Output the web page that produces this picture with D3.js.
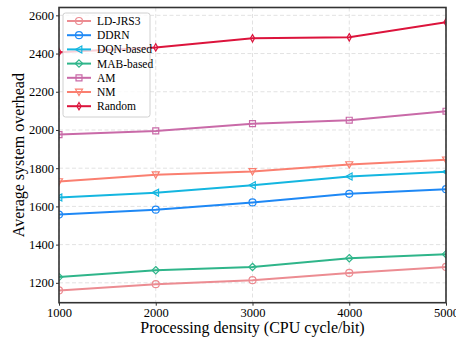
<!DOCTYPE html>
<html>
<head>
<meta charset="utf-8">
<script src="https://cdn.jsdelivr.net/npm/d3@7"></script>
<style>
  html, body { margin: 0; padding: 0; background: #fff; }
  svg { display: block; font-family: "Liberation Serif", "Times New Roman", serif; }
</style>
</head>
<body>
<svg id="chart" width="456" height="337"></svg>
<script>
// Processing density on the x axis
const densities = [1000, 2000, 3000, 4000, 5000];
const xTicks = [1000, 2000, 3000, 4000, 5000];
const yTicks = [1200, 1400, 1600, 1800, 2000, 2200, 2400, 2600];

// Average system overhead per scheme
const ldJrs3   = [1160, 1193, 1214, 1252, 1283];
const ddrn     = [1557, 1583, 1621, 1666, 1690];
const dqnBased = [1647, 1672, 1711, 1757, 1781];
const mabBased = [1230, 1266, 1283, 1329, 1350];
const am       = [1976, 1995, 2033, 2051, 2098];
const nm       = [1730, 1766, 1783, 1819, 1844];
const random   = [2407, 2432, 2480, 2485, 2564];

const seriesNames = ["LD-JRS3", "DDRN", "DQN-based", "MAB-based", "AM", "NM", "Random"];
const seriesValues = [ldJrs3, ddrn, dqnBased, mabBased, am, nm, random];
const seriesColors = ["#ec8c92", "#1e88f5", "#14b6e0", "#2fb58a", "#c96aa8", "#fa7f70", "#dc143c"];
const seriesMarkers = ["circle", "circle", "triLeft", "diamond", "square", "triDown", "thinDiamond"];

const svg = d3.select("#chart");
const W = 456, H = 337;
const m = { left: 59, right: 10, top: 7.5, bottom: 34.3 };
const pw = W - m.left - m.right, ph = H - m.top - m.bottom;

const x = d3.scaleLinear().domain([1000, 5000]).range([m.left, m.left + pw]);
const y = d3.scaleLinear().domain([1096, 2641]).range([m.top + ph, m.top]);

// grid
const grid = svg.append("g").attr("stroke", "#e2e2e2").attr("stroke-width", 1).attr("stroke-dasharray", "4,2.5");
grid.selectAll(".gy").data(yTicks).join("line")
  .attr("x1", m.left).attr("x2", m.left + pw)
  .attr("y1", d => y(d)).attr("y2", d => y(d));
grid.selectAll(".gx").data(xTicks).join("line")
  .attr("y1", m.top).attr("y2", m.top + ph)
  .attr("x1", d => x(d)).attr("x2", d => x(d));

svg.append("defs").append("clipPath").attr("id", "plotclip")
  .append("rect").attr("x", m.left).attr("y", m.top).attr("width", pw).attr("height", ph);

// marker path generator
function markerPath(type, s) {
  const r = s / 2;
  switch (type) {
    case "circle":
      return `M${r},0A${r},${r} 0 1,1 ${-r},0A${r},${r} 0 1,1 ${r},0Z`;
    case "square":
      return `M${-r*0.85},${-r*0.85}H${r*0.85}V${r*0.85}H${-r*0.85}Z`;
    case "diamond":
      return `M0,${-r*1.05}L${r*1.05},0L0,${r*1.05}L${-r*1.05},0Z`;
    case "thinDiamond":
      return `M0,${-r*1.05}L${r*0.6},0L0,${r*1.05}L${-r*0.6},0Z`;
    case "triLeft":
      return `M${-r},0L${r*0.8},${-r}L${r*0.8},${r}Z`;
    case "triDown":
      return `M${-r},${-r*0.8}L${r},${-r*0.8}L0,${r}Z`;
  }
}

const plot = svg.append("g").attr("clip-path", "url(#plotclip)");
const line = d3.line().x((d, i) => x(densities[i])).y(d => y(d));

seriesValues.forEach((vals, k) => {
  const g = plot.append("g");
  g.append("path").datum(vals).attr("d", line)
    .attr("fill", "none").attr("stroke", seriesColors[k]).attr("stroke-width", 2);
  g.selectAll("path.mk").data(vals).join("path").attr("class", "mk")
    .attr("transform", (d, i) => `translate(${x(densities[i])},${y(d)})`)
    .attr("d", markerPath(seriesMarkers[k], 7))
    .attr("fill", "none").attr("stroke", seriesColors[k]).attr("stroke-width", 1.2);
});

// frame
svg.append("rect").attr("x", m.left).attr("y", m.top).attr("width", pw).attr("height", ph)
  .attr("fill", "none").attr("stroke", "#333").attr("stroke-width", 1.6);

// axes
const xAxis = svg.append("g").attr("transform", `translate(0,${m.top + ph})`)
  .call(d3.axisBottom(x).tickValues(xTicks).tickSize(3).tickPadding(2).tickFormat(d3.format("d")));
const yAxis = svg.append("g").attr("transform", `translate(${m.left},0)`)
  .call(d3.axisLeft(y).tickValues(yTicks).tickSize(3).tickPadding(2).tickFormat(d3.format("d")));
[xAxis, yAxis].forEach(a => {
  a.select(".domain").remove();
  a.selectAll(".tick line").attr("stroke", "#333").attr("stroke-width", 1);
  a.selectAll(".tick text").attr("font-family", "Liberation Serif, Times New Roman, serif")
    .attr("font-size", 12.5).attr("fill", "#000");
});

// axis titles
svg.append("text").attr("x", m.left + pw / 2).attr("y", 333)
  .attr("text-anchor", "middle").attr("font-size", 16).attr("fill", "#000")
  .text("Processing density (CPU cycle/bit)");
svg.append("text").attr("transform", `translate(24,${m.top + ph / 2}) rotate(-90)`)
  .attr("text-anchor", "middle").attr("font-size", 16).attr("fill", "#000")
  .text("Average system overhead");

// legend
const lg = svg.append("g").attr("transform", "translate(63,13)");
lg.append("rect").attr("width", 87).attr("height", 104).attr("rx", 2.5)
  .attr("fill", "#fff").attr("fill-opacity", 0.8).attr("stroke", "#d0d0d0").attr("stroke-width", 1);
seriesNames.forEach((name, k) => {
  const yy = 8 + k * 14.2;
  const row = lg.append("g").attr("transform", `translate(0,${yy})`);
  row.append("line").attr("x1", 4).attr("x2", 28).attr("y1", 0).attr("y2", 0)
    .attr("stroke", seriesColors[k]).attr("stroke-width", 2);
  row.append("path").attr("transform", "translate(16,0)")
    .attr("d", markerPath(seriesMarkers[k], 7))
    .attr("fill", "none").attr("stroke", seriesColors[k]).attr("stroke-width", 1.2);
  row.append("text").attr("x", 34).attr("y", 4).attr("font-size", 11.5).attr("fill", "#000").text(name);
});
</script>
</body>
</html>
